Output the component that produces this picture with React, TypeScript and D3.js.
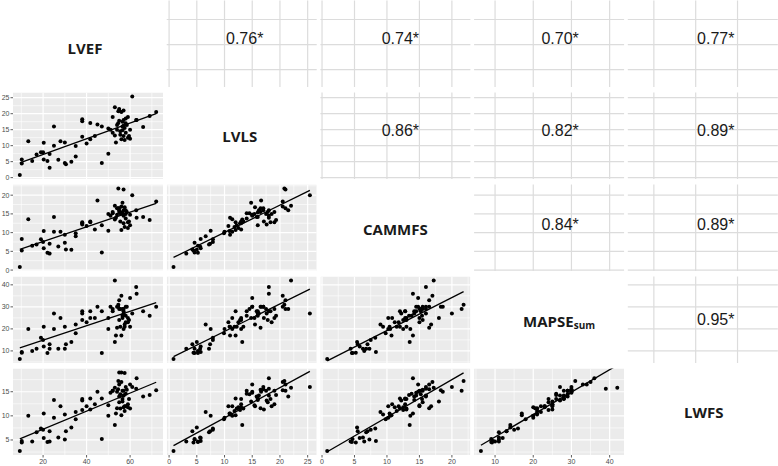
import React from "react";
import * as d3 from "d3";

// ---- data (one entry per subject; null = not measured) ----
const LVEF = [9.3, 10.2, 10.2, 13.2, 15, 17, 19, 20, 20.3, 20.3, 22, 23, 23, 25, 25, 27, 28, 30, 30, 30.5, 33, 35, 35, 38, 38, 38, 40, 41.7, 41.7, 43.8, 45, 47, 47, 50, 50, 51, 53, 52, 54.6, 57, 55, 56, 55.5, 56.5, 57, 52, 53, 54, 54.5, 55, 55.5, 56, 56, 56.5, 57, 57, 57.5, 57.5, 58, 58, 58.5, 59, 59, 59.5, 60, 62.8, 61, 63, 66, 69, 72, 55, 53.5, 54, 58, 60, 55, 56.5, 57.5];
const LVLS = [0.8, 5.7, 4.4, 11.4, 5.2, 7.2, 7.9, 7.9, 10.9, 5.7, 5.2, 7.4, 3.1, 16, 10, 5.6, 11.4, 11, 4.6, 4.2, 5, 9.9, 6.6, 18.3, 17.6, 12.8, 10.7, 12, 17.1, 13, 16.6, 16, 4.6, 7.5, 15.4, 15, 22, 19, 20.8, 21, 21, 20.5, 13.4, 16, 16.2, 14, 13.2, 15, 17, null, 14.5, null, 12, 17.5, 13, 18, 15.5, 11.8, 17, 14, 16.5, 19, 12.5, 13, 15, 18, 25.4, 18, 15.8, 19.3, 20.5, 21.5, 11, 16.5, 18.5, 12.2, 17.8, 14.8, null];
const CAMMFS = [0.8, 8.3, 5.2, 13.6, 6.5, 6.8, 8.2, 7.5, 10.4, 5.8, 4.6, 7, 4.4, 14.2, 10.2, 6.3, 10.2, 9.4, 7.3, 5.5, 5.4, 9.8, 9, 12.8, 12.2, 12.5, 11.8, 12.8, 13, 10.8, 18.6, 12, 4.7, 10.5, 15, 14.5, 17.2, 15.5, 21.8, 21.5, 16.5, 17, 13, 15.4, 16, 15.2, 13.5, 14.8, 16.5, null, 15.2, null, 10.7, 15, 12.5, 14.5, 16.8, 11.5, 16, 13.8, 15.5, 12.8, 11.2, 13, 14.8, 16, 20, 14, 14.2, 13.4, 18.3, 16, 14, 16.5, 15, 12, 15.5, 18, null];
const MAPSE = [6.3, 9.5, 9.2, 20, 10, 11, 16, 15, 21, 12, 9, 13, 11, 27, 20, 11, 25, 21, 11, 13, 14, 18, 22, 28, 27, 24, 23, 28, 25, 25, 30, 28, 9, 20, 25, 30, 42, 29, 31, 29, 33, 35, 21, 26, 27, 28, 14, 30, 30, null, 29, null, 17, 29, 20, 28, 22, 21, 30, 26, 30, 25, 23, 24, 34, 39, 27, 36, 28, 26, 30, 29, 17, 20.5, 23, 21, 24, 25, null];
const LWFS = [2.7, 4.8, 4.5, 10, 4.7, 6.6, 7.4, 7.1, 10.5, 5.4, 4.6, 6.8, 4.7, 13.3, 9.6, 5.5, 12, 10.3, 5.1, 6.8, 7.6, 9.3, 10.8, 13.5, 13.2, 11.2, 12, 13.6, 11.3, 12.4, 15, 13.6, 5.2, 10, 12.2, 14.8, 15.8, 15.2, 17.2, 15.2, 16.5, 17, 11.5, 13.5, 14.2, 15.2, 8.1, 15, 15.5, 19, 14.5, 19, 10.1, 15.2, 11.8, 14.2, 12, 11, 16, 14.6, 15.4, 12.4, 11.8, 13.5, 16.5, 15.6, 16, 17.8, 14, 14.3, 15.3, 14, 10.5, 11.6, 12, 11.5, 12.8, 13, 18.9];

const variableNames = ["LVEF", "LVLS", "CAMMFS", "MAPSE", "LWFS"];
const variableSubscripts = ["", "", "", "sum", ""];
const majorBreaks = [
  [20, 40, 60],
  [0, 5, 10, 15, 20, 25],
  [0, 5, 10, 15, 20],
  [10, 20, 30, 40],
  [5, 10, 15],
];
// correlation text for upper panels, keyed "row-col"
const corrText: Record<string, string> = {
  "0-1": "0.76*", "0-2": "0.74*", "0-3": "0.70*", "0-4": "0.77*",
  "1-2": "0.86*", "1-3": "0.82*", "1-4": "0.89*",
  "2-3": "0.84*", "2-4": "0.89*",
  "3-4": "0.95*",
};

// ---- layout ----
const W = 778, H = 466;
const colX0 = 13, colStep = 153.7, panelW = 150;
const rowY0 = 0.5, rowStep = 92, panelH = 86.5;
const corrShiftX = [0, 3, 5, 11, 13];
const corrShiftY = [-5, -5, -3, 0, 0];
const diagShiftX = [-3, -2, 0, 0, 1];
const diagShiftY = [4, 0, 1, 1, 0];

const data: (number | null)[][] = [LVEF, LVLS, CAMMFS, MAPSE, LWFS];

function paddedDomain(v: (number | null)[]): [number, number] {
  const [a, b] = d3.extent(v as number[]) as [number, number];
  const p = (b - a) * 0.05;
  return [a - p, b + p];
}

const xs = data.map((v, i) =>
  d3.scaleLinear().domain(paddedDomain(v)).range([colX0 + i * colStep, colX0 + i * colStep + panelW])
);
const ys = data.map((v, i) =>
  d3.scaleLinear().domain(paddedDomain(v)).range([rowY0 + i * rowStep + panelH, rowY0 + i * rowStep])
);

function inDomain(t: number, dom: number[]) {
  return t >= dom[0] && t <= dom[1];
}
function minorBreaks(major: number[], dom: number[]) {
  const step = major[1] - major[0];
  const out: number[] = [];
  for (let t = major[0] - step / 2; t <= dom[1]; t += step) if (t >= dom[0]) out.push(t);
  return out;
}
function pairs(c: number, r: number) {
  const out: [number, number][] = [];
  data[c].forEach((v, k) => {
    const w = data[r][k];
    if (v != null && w != null) out.push([v, w]);
  });
  return out;
}
function fit(p: [number, number][]) {
  const mx = d3.mean(p, (d) => d[0])!, my = d3.mean(p, (d) => d[1])!;
  let sxy = 0, sxx = 0;
  p.forEach(([x, y]) => { sxy += (x - mx) * (y - my); sxx += (x - mx) * (x - mx); });
  const b = sxy / sxx;
  return { a: my - b * mx, b };
}

const gridGrey = "#dcdcdc";
const axisGrey = "#4d4d4d";

function LowerPanel({ r, c }: { r: number; c: number }) {
  const x = xs[c], y = ys[r];
  const [x0, x1] = x.range();
  const [y1, y0] = y.range();
  const xd = x.domain(), yd = y.domain();
  const p = pairs(c, r);
  const { a, b } = fit(p);
  const [xmin, xmax] = d3.extent(p, (d) => d[0]) as [number, number];
  const id = `clip-${r}-${c}`;
  return (
    <g>
      <clipPath id={id}>
        <rect x={x0} y={y0} width={x1 - x0} height={y1 - y0} />
      </clipPath>
      <g clipPath={`url(#${id})`}>
        <rect x={x0} y={y0} width={x1 - x0} height={y1 - y0} fill="#ebebeb" />
        {minorBreaks(majorBreaks[c], xd).map((t) => (
          <line key={"mx" + t} x1={x(t)} x2={x(t)} y1={y0} y2={y1} stroke="#fff" strokeWidth={0.6} />
        ))}
        {minorBreaks(majorBreaks[r], yd).map((t) => (
          <line key={"my" + t} x1={x0} x2={x1} y1={y(t)} y2={y(t)} stroke="#fff" strokeWidth={0.6} />
        ))}
        {majorBreaks[c].filter((t) => inDomain(t, xd)).map((t) => (
          <line key={"Mx" + t} x1={x(t)} x2={x(t)} y1={y0} y2={y1} stroke="#fff" strokeWidth={1.2} />
        ))}
        {majorBreaks[r].filter((t) => inDomain(t, yd)).map((t) => (
          <line key={"My" + t} x1={x0} x2={x1} y1={y(t)} y2={y(t)} stroke="#fff" strokeWidth={1.2} />
        ))}
        {p.map(([vx, vy], k) => (
          <circle key={k} cx={x(vx)} cy={y(vy)} r={2} fill="#000" />
        ))}
        <line x1={x(xmin)} y1={y(a + b * xmin)} x2={x(xmax)} y2={y(a + b * xmax)} stroke="#000" strokeWidth={1.3} />
      </g>
    </g>
  );
}

function UpperPanel({ r, c }: { r: number; c: number }) {
  const x = xs[c], y = ys[r];
  const [x0, x1] = x.range();
  const [y1, y0] = y.range();
  const xd = x.domain(), yd = y.domain();
  return (
    <g>
      {majorBreaks[c].filter((t) => inDomain(t, xd)).map((t) => (
        <line key={"Ux" + t} x1={x(t)} x2={x(t)} y1={y0} y2={y1} stroke={gridGrey} strokeWidth={1.2} />
      ))}
      {majorBreaks[r].filter((t) => inDomain(t, yd)).map((t) => (
        <line key={"Uy" + t} x1={x0} x2={x1} y1={y(t)} y2={y(t)} stroke={gridGrey} strokeWidth={1.2} />
      ))}
      <text
        x={(x0 + x1) / 2 + corrShiftX[c]}
        y={(y0 + y1) / 2 + corrShiftY[r]}
        textAnchor="middle"
        dominantBaseline="central"
        fontFamily="'Liberation Sans', Arial, Helvetica, sans-serif"
        fontSize={16}
        fill="#1a1a1a"
      >
        {corrText[`${r}-${c}`]}
      </text>
    </g>
  );
}

function DiagPanel({ i }: { i: number }) {
  const [x0, x1] = xs[i].range();
  const [y1, y0] = ys[i].range();
  const sub = variableSubscripts[i];
  const cx = (x0 + x1) / 2 + diagShiftX[i] + (sub ? 10 : 0);
  const cy = (y0 + y1) / 2 + diagShiftY[i];
  return (
    <text
      x={cx}
      y={cy}
      textAnchor="middle"
      dominantBaseline="central"
      fontFamily="'Open Sans', 'DejaVu Sans', sans-serif"
      fontWeight={700}
      fontSize={15}
      fill="#1a1a1a"
    >
      {variableNames[i]}
      {sub ? (
        <tspan fontSize={10} dy={4}>
          {sub}
        </tspan>
      ) : null}
    </text>
  );
}

export default function App() {
  const n = data.length;
  const cells: React.ReactNode[] = [];
  for (let r = 0; r < n; r++) {
    for (let c = 0; c < n; c++) {
      if (r > c) cells.push(<LowerPanel key={`${r}-${c}`} r={r} c={c} />);
      else if (r < c) cells.push(<UpperPanel key={`${r}-${c}`} r={r} c={c} />);
      else cells.push(<DiagPanel key={`d${r}`} i={r} />);
    }
  }
  const yAxes = [];
  for (let r = 1; r < n; r++) {
    const y = ys[r];
    const xl = xs[0].range()[0];
    yAxes.push(
      <g key={"ya" + r}>
        {majorBreaks[r].filter((t) => inDomain(t, y.domain())).map((t) => (
          <g key={t}>
            <line x1={xl - 2.5} x2={xl} y1={y(t)} y2={y(t)} stroke="#333" strokeWidth={0.8} />
            <text x={xl - 3.5} y={y(t)} textAnchor="end" dominantBaseline="central" fontSize={7} fill={axisGrey}
              fontFamily="'Liberation Sans', Arial, sans-serif">{t}</text>
          </g>
        ))}
      </g>
    );
  }
  const xAxes = [];
  const yb = ys[n - 1].range()[0];
  for (let c = 0; c < n - 1; c++) {
    const x = xs[c];
    xAxes.push(
      <g key={"xa" + c}>
        {majorBreaks[c].filter((t) => inDomain(t, x.domain())).map((t) => (
          <g key={t}>
            <line x1={x(t)} x2={x(t)} y1={yb} y2={yb + 2.5} stroke="#333" strokeWidth={0.8} />
            <text x={x(t)} y={yb + 9} textAnchor="middle" fontSize={7} fill={axisGrey}
              fontFamily="'Liberation Sans', Arial, sans-serif">{t}</text>
          </g>
        ))}
      </g>
    );
  }
  return (
    <svg width={W} height={H} style={{ position: "absolute", left: 0, top: 0, background: "#fff" }}>
      <rect width={W} height={H} fill="#fff" />
      {cells}
      {yAxes}
      {xAxes}
    </svg>
  );
}
